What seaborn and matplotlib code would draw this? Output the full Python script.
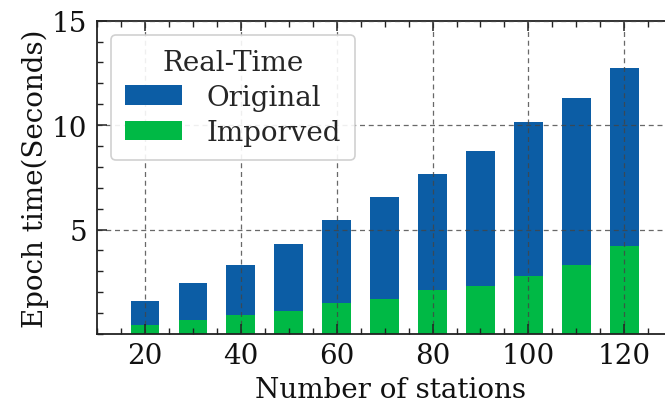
import matplotlib
matplotlib.use("Agg")
import matplotlib.pyplot as plt
import seaborn as sns
import pandas as pd
from matplotlib.ticker import MultipleLocator, FixedLocator

# Epoch time per station count
stations = [20, 30, 40, 50, 60, 70, 80, 90, 100, 110, 120]
original = [1.56, 2.43, 3.32, 4.31, 5.44, 6.54, 7.67, 8.76, 10.14, 11.29, 12.76]
improved = [0.45, 0.67, 0.91, 1.12, 1.47, 1.67, 2.12, 2.31, 2.76, 3.30, 4.22]

x_ticks = [20, 40, 60, 80, 100, 120]
y_ticks = [5, 10, 15]

BLUE = "#0C5DA5"
GREEN = "#00B945"
FS = 20

sns.set_theme(style="ticks")
plt.rcParams["font.family"] = ["DejaVu Serif"]
plt.rcParams["mathtext.fontset"] = "dejavuserif"
plt.rcParams["savefig.bbox"] = None

df = pd.DataFrame({"stations": stations, "original": original, "improved": improved})

LEFT, RIGHT = 0.1459, 1.03
fig = plt.figure(figsize=(6.65, 4.10), dpi=100)
ax = fig.add_axes([LEFT, 0.183, RIGHT - LEFT, 0.947 - 0.183])

sns.barplot(data=df, x="stations", y="original", native_scale=True, width=0.6,
            color=BLUE, saturation=1, errorbar=None, label="Original",
            linewidth=0, edgecolor="none", ax=ax)
sns.barplot(data=df, x="stations", y="improved", native_scale=True, width=0.6,
            color=GREEN, saturation=1, errorbar=None, label="Imporved",
            linewidth=0, edgecolor="none", ax=ax)

# the plotting area runs past the right edge of the figure
ax.set_xlim(10, 10 + 118.5 * (RIGHT - LEFT) / (1.0 - LEFT))
ax.set_ylim(0, 15)
ax.xaxis.set_major_locator(FixedLocator(x_ticks))
ax.xaxis.set_minor_locator(MultipleLocator(5))
ax.yaxis.set_major_locator(FixedLocator(y_ticks))
ax.yaxis.set_minor_locator(MultipleLocator(1))
ax.set_xticklabels([str(v) for v in x_ticks])
ax.set_yticklabels([str(v) for v in y_ticks])

ax.tick_params(which="both", direction="in", top=True, right=False, colors="#222222",
               labelcolor="#111111", labelsize=FS)
ax.tick_params(which="major", length=7, width=1.1)
ax.tick_params(which="minor", length=4, width=1.0)
ax.tick_params(axis="y", which="major", pad=7)
ax.tick_params(axis="x", which="major", pad=6)

for name, sp in ax.spines.items():
    sp.set_visible(name != "right")
    sp.set_linewidth(1.3)
    sp.set_color("#222222")

ax.set_axisbelow(False)
ax.grid(True, which="major", linestyle=(0, (4, 3)), linewidth=0.9, color="#444444", alpha=0.8)

ax.set_xlabel("Number of stations", fontsize=FS, labelpad=5, color="#111111")
ax.set_ylabel("Epoch time(Seconds)", fontsize=FS, labelpad=2, color="#111111")

leg = ax.legend(title="Real-Time", loc="upper left", fontsize=FS, title_fontsize=FS,
                frameon=True, fancybox=True, framealpha=0.9, edgecolor="#cccccc",
                handlelength=2.05, handleheight=0.72, handletextpad=0.9,
                borderaxespad=0.5, borderpad=0.5, labelspacing=0.3)
leg.get_frame().set_linewidth(1.2)

fig.savefig("out.png", dpi=100, bbox_inches=None)
